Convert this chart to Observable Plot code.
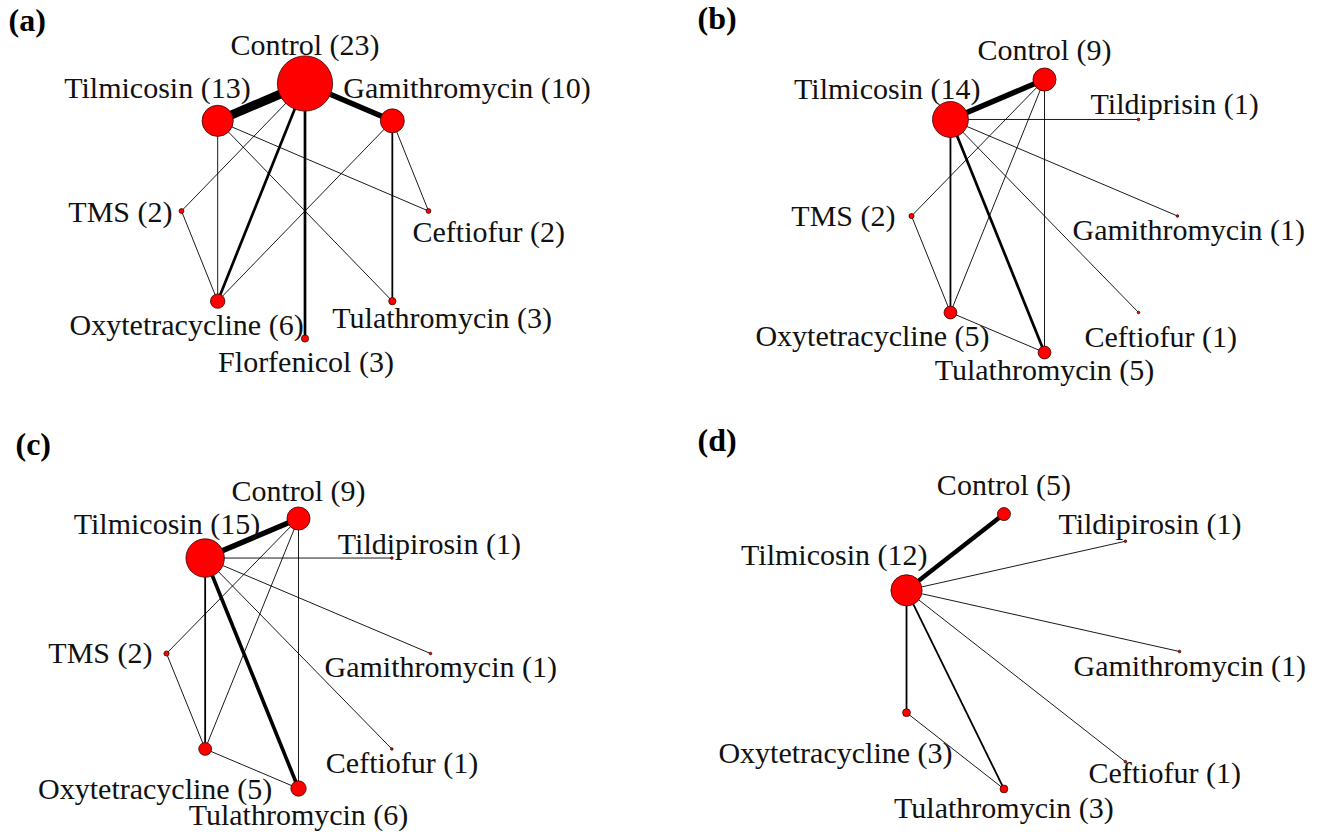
<!DOCTYPE html>
<html>
<head>
<meta charset="utf-8">
<script src="https://cdn.jsdelivr.net/npm/d3@7"></script>
<script src="https://cdn.jsdelivr.net/npm/@observablehq/plot@0.6"></script>
<style>
  body { margin: 0; background: #fff; }
  #wrap { position: relative; width: 1324px; height: 835px; overflow: hidden; background: #fff; }
  #wrap > div { position: absolute; }
</style>
</head>
<body>
<div id="wrap"></div>
<script>
// ---------------- DATA ----------------
// Treatments are listed in their order around the network circle (counter-clockwise from the right).
const tagA = "(a)";
const treatmentsA = ["Ceftiofur", "Gamithromycin", "Control", "Tilmicosin", "TMS", "Oxytetracycline", "Florfenicol", "Tulathromycin"];
const studiesA = [2, 10, 23, 13, 2, 6, 3, 3];
const comparisonsA = [
  ["Control", "Tilmicosin"], ["Control", "Gamithromycin"], ["Control", "Oxytetracycline"],
  ["Control", "Florfenicol"], ["Control", "TMS"], ["Tilmicosin", "Oxytetracycline"],
  ["Tilmicosin", "Ceftiofur"], ["Tilmicosin", "Tulathromycin"], ["Gamithromycin", "Tulathromycin"],
  ["Gamithromycin", "Ceftiofur"], ["Gamithromycin", "Oxytetracycline"], ["TMS", "Oxytetracycline"]
];
const comparisonStudiesA = [10, 6, 3, 3, 1, 1, 1, 1, 2, 1, 1, 1];

const tagB = "(b)";
const treatmentsB = ["Gamithromycin", "Tildiprisin", "Control", "Tilmicosin", "TMS", "Oxytetracycline", "Tulathromycin", "Ceftiofur"];
const studiesB = [1, 1, 9, 14, 2, 5, 5, 1];
const comparisonsB = [
  ["Control", "Tilmicosin"], ["Control", "TMS"], ["Control", "Oxytetracycline"], ["Control", "Tulathromycin"],
  ["Tilmicosin", "Tildiprisin"], ["Tilmicosin", "Gamithromycin"], ["Tilmicosin", "Ceftiofur"],
  ["Tilmicosin", "Tulathromycin"], ["Tilmicosin", "Oxytetracycline"], ["TMS", "Oxytetracycline"],
  ["Oxytetracycline", "Tulathromycin"]
];
const comparisonStudiesB = [6, 1, 1, 1, 1, 1, 1, 3, 2, 1, 1];

const tagC = "(c)";
const treatmentsC = ["Gamithromycin", "Tildipirosin", "Control", "Tilmicosin", "TMS", "Oxytetracycline", "Tulathromycin", "Ceftiofur"];
const studiesC = [1, 1, 9, 15, 2, 5, 6, 1];
const comparisonsC = [
  ["Control", "Tilmicosin"], ["Control", "TMS"], ["Control", "Oxytetracycline"], ["Control", "Tulathromycin"],
  ["Tilmicosin", "Tildipirosin"], ["Tilmicosin", "Gamithromycin"], ["Tilmicosin", "Ceftiofur"],
  ["Tilmicosin", "Tulathromycin"], ["Tilmicosin", "Oxytetracycline"], ["TMS", "Oxytetracycline"],
  ["Oxytetracycline", "Tulathromycin"]
];
const comparisonStudiesC = [6, 1, 1, 1, 1, 1, 1, 4, 2, 1, 1];

const tagD = "(d)";
const treatmentsD = ["Gamithromycin", "Tildipirosin", "Control", "Tilmicosin", "Oxytetracycline", "Tulathromycin", "Ceftiofur"];
const studiesD = [1, 1, 5, 12, 3, 3, 1];
const comparisonsD = [
  ["Control", "Tilmicosin"], ["Tilmicosin", "Tildipirosin"], ["Tilmicosin", "Gamithromycin"],
  ["Tilmicosin", "Ceftiofur"], ["Tilmicosin", "Oxytetracycline"], ["Tilmicosin", "Tulathromycin"],
  ["Oxytetracycline", "Tulathromycin"]
];
const comparisonStudiesD = [5, 1, 1, 1, 2, 2, 1];

// ---------------- LAYOUT / STYLE (not data) ----------------
// Panel frames (px within the page) and the pixel extent of the unit circle in each panel.
const frames = [
  {left: 0,   top: 0,   w: 662, h: 417, cx: 304.5, cy: 210.5, rx: 123.5, ry: 127.5, rPer: 1.2,  tagDx: 8,  tagDy: 8},
  {left: 662, top: 0,   w: 662, h: 417, cx: 382,   cy: 215.5, rx: 133,   ry: 136.5, rPer: 1.28, tagDx: 35, tagDy: 6},
  {left: 0,   top: 417, w: 662, h: 418, cx: 298,   cy: 236,   rx: 132,   ry: 135,   rPer: 1.28, tagDx: 15, tagDy: 15},
  {left: 662, top: 417, w: 662, h: 418, cx: 373.4, cy: 234,   rx: 143.6, ry: 141,   rPer: 1.3,  tagDx: 35, tagDy: 11}
];
// Label placement relative to each node: [text-anchor, dx, dy] (same order as the treatments).
const labelStyleA = [["start", -16, 21], ["start", -49, -32], ["middle", 0, -38], ["end", 33, -32], ["end", -9, 1], ["end", 86, 24], ["middle", 1, 24], ["start", -60, 17]];
const labelStyleB = [["start", -105, 14], ["start", -48, -15], ["middle", 0, -29], ["end", 30, -30], ["end", -16, 0], ["end", 39, 24], ["middle", 0, 18], ["start", -54, 25]];
const labelStyleC = [["start", -106, 14], ["start", -54, -14], ["middle", 0, -27], ["end", 55, -34], ["end", -14, 0], ["end", 67, 40], ["middle", 0, 27], ["start", -66, 14]];
const labelStyleD = [["start", -106, 15], ["start", -67, -17], ["middle", 0, -29], ["end", 21, -35], ["end", 46, 41], ["middle", 0, 19], ["start", -37, 12]];

const panels = [
  {tag: tagA, treatments: treatmentsA, studies: studiesA, comparisons: comparisonsA, k: comparisonStudiesA, labels: labelStyleA},
  {tag: tagB, treatments: treatmentsB, studies: studiesB, comparisons: comparisonsB, k: comparisonStudiesB, labels: labelStyleB},
  {tag: tagC, treatments: treatmentsC, studies: studiesC, comparisons: comparisonsC, k: comparisonStudiesC, labels: labelStyleC},
  {tag: tagD, treatments: treatmentsD, studies: studiesD, comparisons: comparisonsD, k: comparisonStudiesD, labels: labelStyleD}
];

const FONT = "'Liberation Serif', 'Times New Roman', serif";

function drawPanel(p, f) {
  const n = p.treatments.length;
  const nodes = p.treatments.map((t, i) => ({
    name: t, n: p.studies[i],
    cx: Math.cos(2 * Math.PI * i / n), cy: Math.sin(2 * Math.PI * i / n),
    lab: p.labels[i]
  }));
  const byName = new Map(nodes.map(d => [d.name, d]));
  const edges = p.comparisons.map(([a, b], i) => ({a: byName.get(a), b: byName.get(b), k: p.k[i]}));

  const labelMarks = nodes.map(d => Plot.text([d], {
    x: "cx", y: "cy", text: v => `${v.name} (${v.n})`,
    textAnchor: d.lab[0], dx: d.lab[1], dy: d.lab[2],
    fontSize: 30, fontFamily: FONT, fill: "#111"
  }));

  return Plot.plot({
    width: f.w, height: f.h, margin: 0,
    style: {background: "transparent", fontFamily: FONT},
    x: {domain: [-1, 1], range: [f.cx - f.rx, f.cx + f.rx], axis: null},
    y: {domain: [-1, 1], range: [f.cy + f.ry, f.cy - f.ry], axis: null},
    r: {type: "linear", domain: [0, 1], range: [0, f.rPer]},
    marks: [
      Plot.link(edges, {
        x1: d => d.a.cx, y1: d => d.a.cy, x2: d => d.b.cx, y2: d => d.b.cy,
        stroke: "#000", strokeWidth: d => Math.max(0.9, d.k * 0.9), strokeLinecap: "butt"
      }),
      Plot.dot(nodes, {x: "cx", y: "cy", r: "n", fill: "#ff0000", stroke: "#3a0000", strokeWidth: 0.8}),
      ...labelMarks,
      Plot.text([p.tag], {
        frameAnchor: "top-left", textAnchor: "start", lineAnchor: "top",
        dx: f.tagDx, dy: f.tagDy, fontSize: 32, fontWeight: "bold", fontFamily: FONT, fill: "#000"
      })
    ]
  });
}

const wrap = document.getElementById("wrap");
panels.forEach((p, i) => {
  const f = frames[i];
  const holder = document.createElement("div");
  holder.style.left = f.left + "px";
  holder.style.top = f.top + "px";
  holder.style.width = f.w + "px";
  holder.style.height = f.h + "px";
  holder.appendChild(drawPanel(p, f));
  wrap.appendChild(holder);
});
</script>
</body>
</html>
